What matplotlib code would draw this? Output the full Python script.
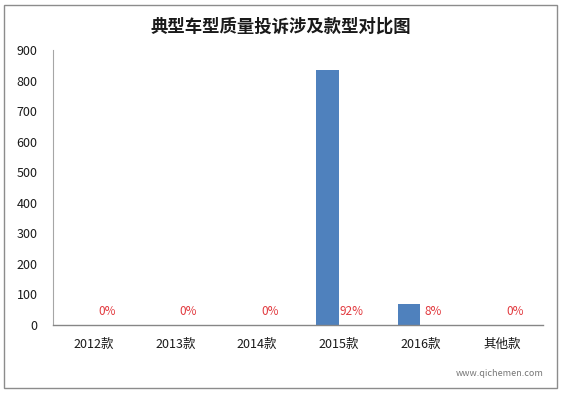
import numpy as np
import matplotlib
matplotlib.use("Agg")
import matplotlib.pyplot as plt
from matplotlib.patches import Rectangle

plt.rcParams['font.family'] = ['Noto Sans CJK SC', 'DejaVu Sans']

# Data
categories = ["2012款", "2013款", "2014款", "2015款", "2016款", "其他款"]
counts = [0, 0, 0, 834, 70, 0]
share_labels = ["0%", "0%", "0%", "92%", "8%", "0%"]
y_ticks = [0, 100, 200, 300, 400, 500, 600, 700, 800, 900]

W, H = 561, 393
fig = plt.figure(figsize=(W / 100, H / 100), dpi=100)
fig.patch.set_facecolor("white")

# outer frame around the whole chart
fig.patches.append(Rectangle((4 / W, 5 / H), 553 / W, 383 / H, transform=fig.transFigure,
                             fill=False, edgecolor="#8c8c8c", linewidth=1.0))

ax = fig.add_axes([53 / W, (H - 325) / H, (543 - 53) / W, (325 - 50) / H])

x = np.arange(len(categories))
bw = 0.28
ax.bar(x - bw / 2, counts, width=bw, color="#4f81bd", zorder=2)

for xi, lab in zip(x, share_labels):
    ax.text(xi + bw / 2 + 0.02, 43, lab, color="#e23a3f", fontsize=8.5,
            ha="center", va="center")

ax.set_xlim(-0.5, len(categories) - 0.5)
ax.set_ylim(0, 900)
ax.set_yticks(y_ticks)
ax.set_yticklabels([str(v) for v in y_ticks])
ax.set_xticks(x)
ax.set_xticklabels(categories)
ax.tick_params(axis="y", length=0, pad=11, labelsize=9, labelcolor="#1a1a1a")
ax.tick_params(axis="x", length=0, pad=9, labelsize=9, labelcolor="#1a1a1a")

for side in ["top", "right"]:
    ax.spines[side].set_visible(False)
ax.spines["left"].set_color("#a6a6a6")
ax.spines["bottom"].set_color("#868686")
ax.spines["left"].set_linewidth(0.8)
ax.spines["bottom"].set_linewidth(1.0)

fig.text(281 / W, 1 - 27 / H, "典型车型质量投诉涉及款型对比图", ha="center", va="center",
         fontsize=12.5, fontweight="bold", color="#1a1a1a")

# site watermark in the lower right corner
fig.text(500 / W, 1 - 374 / H, "www.qichemen.com", ha="center", va="center",
         fontsize=6.5, color="#555555", alpha=0.8)

fig.savefig("out.png", dpi=100)
